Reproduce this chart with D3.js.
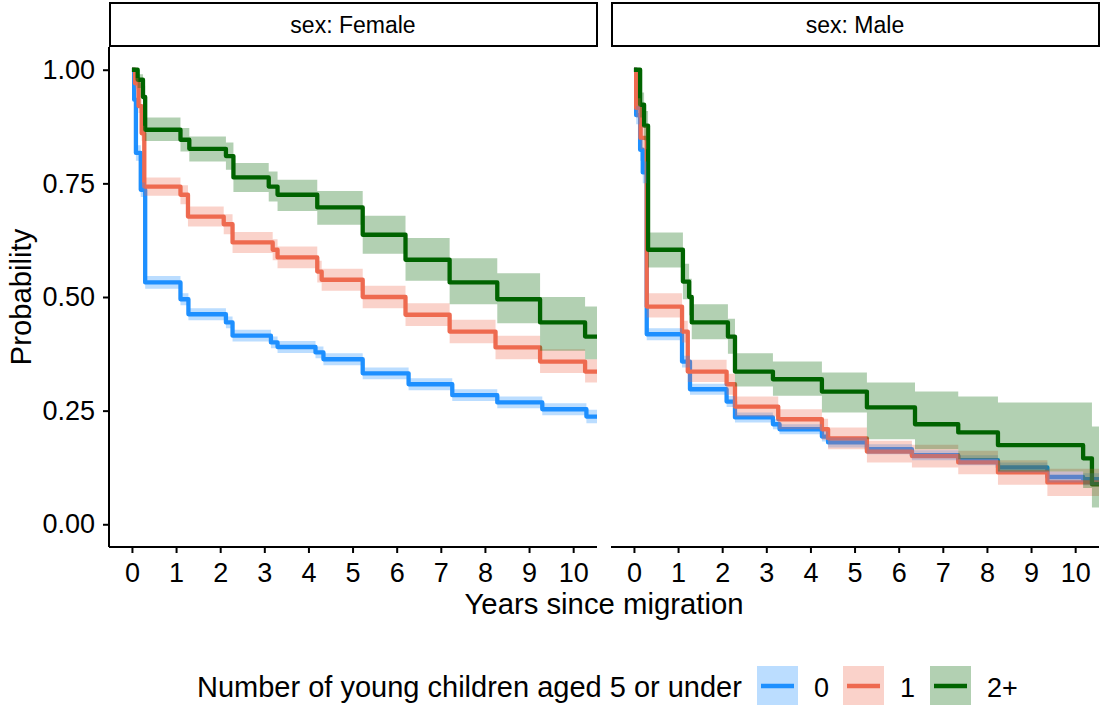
<!DOCTYPE html>
<html>
<head>
<meta charset="utf-8">
<script src="https://cdn.jsdelivr.net/npm/d3@7"></script>
<style>
  body { margin: 0; background: #fff; }
  svg { display: block; font-family: "Liberation Sans", Arial, sans-serif; }
</style>
</head>
<body>
<svg id="chart" width="1102" height="705"></svg>
<script>
// Kaplan-Meier style estimates: [years, survival, lower CI, upper CI]
const femaleNone = [
  [0, 1, 1, 1], [0.05, 0.934, 0.92, 0.948], [0.09, 0.817, 0.80, 0.834], [0.2, 0.736, 0.72, 0.752],
  [0.3, 0.532, 0.518, 0.546], [1.1, 0.495, 0.482, 0.508], [1.28, 0.462, 0.449, 0.475],
  [2.13, 0.444, 0.431, 0.457], [2.28, 0.415, 0.402, 0.428], [3.15, 0.40, 0.387, 0.413],
  [3.3, 0.39, 0.377, 0.403], [4.16, 0.378, 0.365, 0.391], [4.34, 0.363, 0.35, 0.376],
  [5.23, 0.332, 0.319, 0.345], [6.27, 0.308, 0.295, 0.321], [7.26, 0.284, 0.271, 0.297],
  [8.28, 0.268, 0.255, 0.281], [9.3, 0.253, 0.24, 0.266], [10.3, 0.237, 0.222, 0.252]
];
const femaleOne = [
  [0, 1, 1, 1], [0.07, 0.97, 0.958, 0.982], [0.15, 0.92, 0.905, 0.935], [0.22, 0.86, 0.843, 0.877],
  [0.28, 0.743, 0.723, 0.763], [1.1, 0.725, 0.704, 0.746], [1.27, 0.677, 0.655, 0.699],
  [2.08, 0.66, 0.638, 0.682], [2.28, 0.62, 0.597, 0.643], [3.19, 0.604, 0.581, 0.627],
  [3.3, 0.587, 0.563, 0.611], [4.2, 0.556, 0.532, 0.58], [4.3, 0.538, 0.514, 0.562],
  [5.23, 0.50, 0.475, 0.525], [6.2, 0.461, 0.436, 0.486], [7.2, 0.424, 0.398, 0.45],
  [8.24, 0.389, 0.363, 0.415], [9.25, 0.358, 0.333, 0.385], [10.27, 0.336, 0.312, 0.363]
];
const femaleTwoPlus = [
  [0, 1, 1, 1], [0.13, 0.978, 0.96, 0.99], [0.25, 0.94, 0.915, 0.965], [0.3, 0.868, 0.843, 0.895],
  [1.1, 0.846, 0.82, 0.872], [1.3, 0.826, 0.798, 0.853], [2.13, 0.81, 0.78, 0.84],
  [2.3, 0.763, 0.731, 0.795], [3.1, 0.743, 0.71, 0.776], [3.3, 0.725, 0.689, 0.758],
  [4.2, 0.697, 0.659, 0.733], [5.23, 0.637, 0.595, 0.679], [6.2, 0.582, 0.536, 0.630],
  [7.2, 0.532, 0.484, 0.585], [8.28, 0.495, 0.442, 0.552], [9.25, 0.444, 0.382, 0.50],
  [10.27, 0.413, 0.363, 0.479]
];
const maleNone = [
  [0, 1, 1, 1], [0.05, 0.90, 0.88, 0.92], [0.14, 0.824, 0.80, 0.848], [0.2, 0.774, 0.75, 0.798],
  [0.29, 0.418, 0.405, 0.431], [1.09, 0.358, 0.345, 0.371], [1.27, 0.297, 0.285, 0.309],
  [2.1, 0.27, 0.258, 0.282], [2.29, 0.235, 0.224, 0.246], [3.15, 0.22, 0.209, 0.231],
  [3.3, 0.209, 0.198, 0.22], [4.26, 0.193, 0.182, 0.204], [4.4, 0.18, 0.169, 0.191],
  [5.28, 0.165, 0.154, 0.176], [6.3, 0.152, 0.141, 0.163], [7.35, 0.141, 0.13, 0.152],
  [8.25, 0.125, 0.114, 0.136], [9.37, 0.104, 0.092, 0.116], [10.18, 0.099, 0.086, 0.112]
];
const maleOne = [
  [0, 1, 1, 1], [0.05, 0.916, 0.895, 0.937], [0.15, 0.85, 0.825, 0.875], [0.29, 0.479, 0.455, 0.508],
  [1.09, 0.424, 0.40, 0.448], [1.22, 0.336, 0.313, 0.362], [2.1, 0.308, 0.285, 0.331],
  [2.29, 0.259, 0.237, 0.281], [3.27, 0.231, 0.209, 0.253], [4.26, 0.209, 0.186, 0.232],
  [4.4, 0.189, 0.165, 0.213], [5.28, 0.16, 0.136, 0.184], [6.3, 0.15, 0.125, 0.175],
  [7.35, 0.136, 0.11, 0.162], [8.25, 0.114, 0.087, 0.141], [9.37, 0.092, 0.062, 0.122]
];
const maleTwoPlus = [
  [0, 1, 1, 1], [0.14, 0.923, 0.895, 0.95], [0.23, 0.877, 0.845, 0.909], [0.32, 0.604, 0.565, 0.642],
  [1.11, 0.534, 0.495, 0.573], [1.25, 0.50, 0.46, 0.54], [1.31, 0.444, 0.407, 0.484],
  [2.13, 0.413, 0.375, 0.452], [2.29, 0.336, 0.303, 0.376], [3.15, 0.319, 0.283, 0.358],
  [4.26, 0.292, 0.246, 0.334], [5.28, 0.257, 0.187, 0.312], [6.37, 0.22, 0.165, 0.292],
  [7.35, 0.202, 0.143, 0.281], [8.25, 0.174, 0.116, 0.268], [10.18, 0.145, 0.08, 0.268],
  [10.38, 0.088, 0.037, 0.215]
];

const groupLabels = ["0", "1", "2+"];
const groupColors = ["#1E90FF", "#EE6A50", "#006400"];
const stripLabels = ["sex: Female", "sex: Male"];
const xTicks = [0, 1, 2, 3, 4, 5, 6, 7, 8, 9, 10];
const yTicks = [0, 0.25, 0.5, 0.75, 1];
const followUpEnd = 10.6;

const layout = {
  panels: [{ left: 109, right: 597 }, { left: 611, right: 1099 }],
  top: 47, bottom: 547,
  stripTop: 3,
  xDomain: [-0.52, 10.54],
  yDomain: [-0.05, 1.05]
};

const svg = d3.select("#chart");
const y = d3.scaleLinear().domain(layout.yDomain).range([layout.bottom, layout.top]);

const panelData = [
  [femaleNone, femaleOne, femaleTwoPlus],
  [maleNone, maleOne, maleTwoPlus]
];

// extend last step to the end of follow-up
const withEnd = rows => rows.concat([[followUpEnd, ...rows[rows.length - 1].slice(1)]]);

layout.panels.forEach((p, i) => {
  const x = d3.scaleLinear().domain(layout.xDomain).range([p.left, p.right]);

  svg.append("clipPath").attr("id", `clip${i}`)
    .append("rect").attr("x", p.left).attr("y", layout.top)
    .attr("width", p.right - p.left).attr("height", layout.bottom - layout.top);

  const g = svg.append("g").attr("clip-path", `url(#clip${i})`);

  const line = d3.line().curve(d3.curveStepAfter).x(d => x(d[0])).y(d => y(d[1]));
  const area = d3.area().curve(d3.curveStepAfter)
    .x(d => x(d[0])).y0(d => y(d[2])).y1(d => y(d[3]));

  panelData[i].forEach((rows, k) => {
    g.append("path").datum(withEnd(rows))
      .attr("d", line).attr("fill", "none")
      .attr("stroke", groupColors[k]).attr("stroke-width", 4.3)
      .attr("stroke-linejoin", "round");
  });
  panelData[i].forEach((rows, k) => {
    g.append("path").datum(withEnd(rows))
      .attr("d", area).attr("fill", groupColors[k]).attr("fill-opacity", 0.3);
  });

  // strip
  svg.append("rect")
    .attr("x", p.left + 1).attr("y", layout.stripTop)
    .attr("width", p.right - p.left - 1).attr("height", layout.top - layout.stripTop - 1)
    .attr("fill", "#fff").attr("stroke", "#000").attr("stroke-width", 2);
  svg.append("text")
    .attr("x", (p.left + p.right) / 2).attr("y", (layout.stripTop + layout.top) / 2)
    .attr("dy", "0.35em").attr("text-anchor", "middle")
    .attr("font-size", 23).text(stripLabels[i]);

  // x axis
  const xAxis = svg.append("g").attr("transform", `translate(0,${layout.bottom})`)
    .call(d3.axisBottom(x).tickValues(xTicks).tickSize(6).tickPadding(10).tickFormat(d3.format("d")));
  xAxis.select(".domain").attr("d", `M${p.left},0H${p.right}`).attr("stroke-width", 2);
  xAxis.selectAll(".tick line").attr("stroke-width", 2);
  xAxis.selectAll(".tick text").attr("font-size", 27).attr("fill", "#000");

  if (i === 0) {
    const yAxis = svg.append("g").attr("transform", `translate(${p.left},0)`)
      .call(d3.axisLeft(y).tickValues(yTicks).tickSize(6).tickPadding(8).tickFormat(d3.format(".2f")));
    yAxis.select(".domain").attr("d", `M0,${layout.top}V${layout.bottom}`).attr("stroke-width", 2);
    yAxis.selectAll(".tick line").attr("stroke-width", 2);
    yAxis.selectAll(".tick text").attr("font-size", 27).attr("fill", "#000");
  }
});

svg.selectAll("g").attr("font-family", null);

// axis titles
svg.append("text")
  .attr("x", (layout.panels[0].left + layout.panels[1].right) / 2).attr("y", 614)
  .attr("text-anchor", "middle").attr("font-size", 29.3).text("Years since migration");
svg.append("text")
  .attr("transform", `translate(31,${(layout.top + layout.bottom) / 2}) rotate(-90)`)
  .attr("text-anchor", "middle").attr("font-size", 29.3).text("Probability");

// legend
const legend = svg.append("g").attr("transform", "translate(197,666)");
legend.append("text").attr("x", 0).attr("y", 31).attr("font-size", 29)
  .text("Number of young children aged 5 or under");
const keyX = [560, 646, 733];
groupLabels.forEach((lab, k) => {
  const key = legend.append("g").attr("transform", `translate(${keyX[k]},0)`);
  key.append("rect").attr("width", 41).attr("height", 40)
    .attr("fill", groupColors[k]).attr("fill-opacity", 0.3);
  key.append("line").attr("x1", 4).attr("x2", 37).attr("y1", 20).attr("y2", 20)
    .attr("stroke", groupColors[k]).attr("stroke-width", 4.3);
  key.append("text").attr("x", 57).attr("y", 31).attr("font-size", 27).text(lab);
});
</script>
</body>
</html>
